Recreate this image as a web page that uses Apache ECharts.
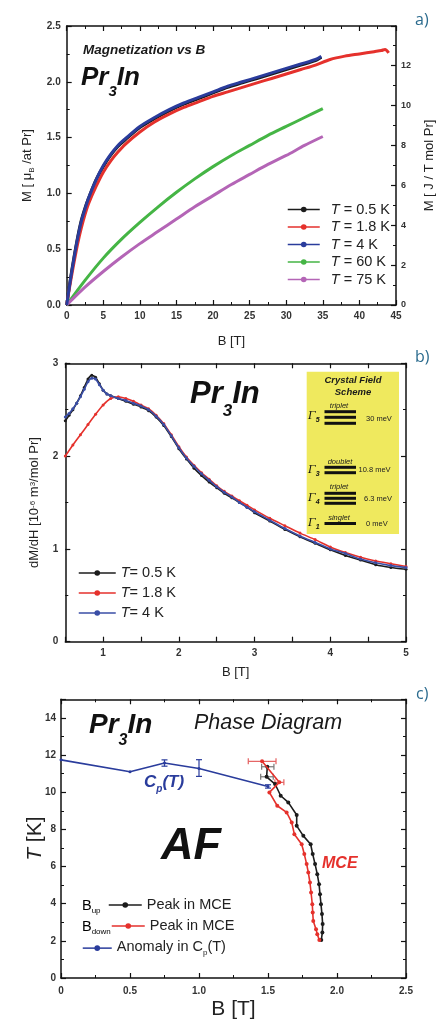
<!DOCTYPE html>
<html><head><meta charset="utf-8">
<script src="https://cdn.jsdelivr.net/npm/echarts@6/dist/echarts.min.js"></script>
<style>html,body{margin:0;padding:0;background:#fff}#c{width:444px;height:1021px}</style>
</head><body><div id="c"></div>
<script>
// ---------- Panel a: Magnetization vs B ----------
const aB_blue = [0,0.5,1,1.5,2,2.5,3,4,5,6,7,8,10,12,14,16,18,20,22,24,26,28,30,32,34,34.8];
const aM_4K   = [0,0.22,0.42,0.60,0.75,0.86,0.96,1.12,1.25,1.35,1.43,1.49,1.60,1.68,1.75,1.81,1.86,1.91,1.96,2.00,2.04,2.08,2.12,2.16,2.20,2.23];
const aM_05K  = [0,0.23,0.43,0.61,0.76,0.87,0.96,1.12,1.24,1.34,1.42,1.48,1.59,1.67,1.74,1.80,1.85,1.90,1.95,1.99,2.03,2.07,2.11,2.15,2.19,2.22];
const aB_red  = [0,0.5,1,1.5,2,2.5,3,4,5,6,7,8,10,12,14,16,18,20,22,24,26,28,30,32,34,36,38,40,42,43,43.5,44];
const aM_18K  = [0,0.20,0.38,0.55,0.69,0.81,0.91,1.06,1.19,1.29,1.37,1.44,1.55,1.64,1.71,1.77,1.82,1.87,1.91,1.95,1.99,2.03,2.07,2.11,2.15,2.20,2.23,2.25,2.27,2.28,2.29,2.26];
const aB_hiT  = [0,2.5,5,7.5,10,12.5,15,17.5,20,22.5,25,27.5,30,32.5,35];
const aM_60K  = [0,0.22,0.42,0.59,0.74,0.88,1.01,1.13,1.24,1.34,1.43,1.52,1.60,1.68,1.76];
const aM_75K  = [0,0.16,0.30,0.43,0.55,0.66,0.77,0.88,0.98,1.08,1.17,1.26,1.34,1.43,1.51];

// ---------- Panel b: dM/dH vs B ----------
const bB      = [0.5,0.55,0.6,0.65,0.7,0.75,0.8,0.85,0.9,0.95,1.0,1.05,1.1,1.2,1.3,1.4,1.5,1.6,1.7,1.8,1.9,2.0,2.1,2.2,2.3,2.4,2.5,2.6,2.7,2.8,2.9,3.0,3.2,3.4,3.6,3.8,4.0,4.2,4.4,4.6,4.8,5.0];
const bD_4K   = [2.42,2.46,2.51,2.57,2.64,2.72,2.80,2.84,2.83,2.77,2.71,2.67,2.65,2.62,2.60,2.57,2.54,2.50,2.43,2.34,2.22,2.09,1.98,1.89,1.81,1.74,1.67,1.61,1.56,1.50,1.45,1.40,1.31,1.22,1.14,1.07,1.00,0.95,0.89,0.85,0.82,0.80];
const bD_05K  = [2.38,2.44,2.50,2.57,2.65,2.74,2.83,2.87,2.85,2.78,2.71,2.67,2.65,2.62,2.59,2.56,2.53,2.49,2.42,2.33,2.21,2.08,1.97,1.87,1.79,1.72,1.66,1.60,1.55,1.50,1.45,1.39,1.30,1.21,1.13,1.06,0.99,0.93,0.88,0.83,0.80,0.78];
const bB_red  = [0.5,0.6,0.7,0.8,0.9,1.0,1.1,1.2,1.3,1.4,1.5,1.6,1.7,1.8,1.9,2.0,2.1,2.2,2.3,2.4,2.5,2.6,2.7,2.8,2.9,3.0,3.2,3.4,3.6,3.8,4.0,4.2,4.4,4.6,4.8,5.0];
const bD_18K  = [2.00,2.12,2.23,2.34,2.45,2.55,2.62,2.64,2.62,2.59,2.55,2.51,2.44,2.35,2.23,2.10,1.99,1.90,1.82,1.75,1.68,1.62,1.57,1.52,1.47,1.42,1.33,1.25,1.17,1.10,1.02,0.96,0.91,0.87,0.84,0.81];

// ---------- Panel c: Phase diagram ----------
const cCp_B  = [0,0.5,0.75,1.0,1.5];
const cCp_T  = [11.74,11.10,11.57,11.28,10.31];
const cCp_lo = [null,null,11.40,10.85,10.22];
const cCp_hi = [null,null,11.74,11.75,10.40];
const cUp_B  = [1.495,1.490,1.551,1.592,1.647,1.708,1.708,1.756,1.809,1.824,1.841,1.857,1.870,1.877,1.884,1.891,1.896,1.894,1.886];
const cUp_T  = [11.37,10.83,10.44,9.81,9.45,8.77,8.19,7.65,7.20,6.67,6.13,5.59,5.05,4.51,3.97,3.44,2.90,2.45,2.04];
const cUp_err = [[1.454,1.543],[1.447,1.538]];
const cDn_B  = [1.457,1.582,1.510,1.567,1.635,1.672,1.691,1.744,1.763,1.780,1.792,1.804,1.812,1.821,1.824,1.828,1.848,1.857,1.872];
const cDn_T  = [11.66,10.53,9.99,9.27,8.91,8.37,7.74,7.20,6.67,6.13,5.68,5.14,4.60,3.97,3.53,3.07,2.63,2.36,2.04];
const cDn_err = [[1.357,1.558],[1.550,1.615]];

// tick label sets
const aLeftTicks = [0,0.5,1.0,1.5,2.0,2.5];
const cXTicks = ['0','0.5','1.0','1.5','2.0','2.5'];

const zip = (xs, ys) => xs.map((x, i) => [x, ys[i]]);
const FF = 'Liberation Sans';

function axis(extra) {
  const base = {
    type: 'value', splitLine: {show: false},
    axisLine: {show: true, onZero: false, lineStyle: {color: '#111', width: 1.5}},
    axisTick: {show: true, inside: true, length: 5, lineStyle: {color: '#111', width: 1.2}},
    minorTick: {show: true, splitNumber: 2, length: 3, lineStyle: {color: '#111', width: 1}},
    axisLabel: {show: true, fontFamily: FF, fontWeight: 'bold', fontSize: 10, color: '#333', margin: 6},
    nameTextStyle: {fontFamily: FF, color: '#222', fontSize: 13}
  };
  const o = Object.assign({}, base, extra);
  if (extra.axisLabel) o.axisLabel = Object.assign({}, base.axisLabel, extra.axisLabel);
  if (extra.axisTick) o.axisTick = Object.assign({}, base.axisTick, extra.axisTick);
  if (extra.minorTick) o.minorTick = Object.assign({}, base.minorTick, extra.minorTick);
  if (extra.nameTextStyle) o.nameTextStyle = Object.assign({}, base.nameTextStyle, extra.nameTextStyle);
  return o;
}

const grids = [
  {left: 66.7, top: 26, width: 342.3, height: 279},
  {left: 65.3, top: 363.3, width: 340.7, height: 278.4},
  {left: 61, top: 699.3, width: 345, height: 279.5}
];

// sub/superscript rich helper: normal tokens top-aligned, sub tokens bottom-aligned
function subLH(fs, d, sub) { return fs / 2 + d + sub / 2; }

const xAxes = [
  axis({gridIndex: 0, min: 0, max: 45, interval: 5, name: 'B [T]', nameLocation: 'middle', nameGap: 30}),
  axis({gridIndex: 0, position: 'top', min: 0, max: 45, interval: 5, axisLabel: {show: false}}),
  axis({gridIndex: 1, min: 0.5, max: 5, interval: 0.5, minorTick: {show: false},
        axisLabel: {formatter: v => Number.isInteger(v) ? String(v) : '', margin: 7},
        name: 'B [T]', nameLocation: 'middle', nameGap: 24}),
  axis({gridIndex: 1, position: 'top', min: 0.5, max: 5, interval: 0.5, minorTick: {show: false}, axisLabel: {show: false}}),
  axis({gridIndex: 2, min: 0, max: 2.5, interval: 0.5,
        axisLabel: {formatter: v => cXTicks[Math.round(v / 0.5)], margin: 8},
        name: 'B [T]', nameLocation: 'middle', nameGap: 21, nameMoveOverlap: false, nameTextStyle: {fontSize: 21}}),
  axis({gridIndex: 2, position: 'top', min: 0, max: 2.5, interval: 0.5, axisLabel: {show: false}})
];

const yAxes = [
  axis({gridIndex: 0, min: 0, max: 2.5, interval: 0.5,
        axisLabel: {formatter: v => aLeftTicks.includes(v) ? v.toFixed(1) : ''},
        name: '{n|M [ μ}{s|B}{n| /at Pr]}', nameLocation: 'middle', nameGap: 26,
        nameTextStyle: {rich: {n: {fontFamily: FF, fontSize: 13, color: '#222', lineHeight: 13, verticalAlign: 'top'},
                               s: {fontFamily: FF, fontSize: 8, color: '#222', lineHeight: subLH(13, 4, 8), verticalAlign: 'bottom'}}}}),
  axis({gridIndex: 0, position: 'right', min: 0, max: 2.5 * 5.585, interval: 2,
        axisLabel: {formatter: v => v <= 12 ? String(v) : '', fontSize: 9, margin: 5},
        name: 'M [ J / T mol Pr]', nameLocation: 'middle', nameGap: 27}),
  axis({gridIndex: 1, min: 0, max: 3, interval: 1,
        axisLabel: {margin: 7},
        name: '{n|dM/dH [10}{p|-6}{n| m}{p|3}{n|/mol Pr]}', nameLocation: 'middle', nameGap: 21,
        nameTextStyle: {rich: {n: {fontFamily: FF, fontSize: 13, color: '#222', lineHeight: 16, verticalAlign: 'top'},
                               p: {fontFamily: FF, fontSize: 8, color: '#222', lineHeight: 8, verticalAlign: 'top'}}}}),
  axis({gridIndex: 1, position: 'right', min: 0, max: 3, interval: 1, axisLabel: {show: false}}),
  axis({gridIndex: 2, min: 0, max: 15, interval: 2,
        axisLabel: {formatter: v => v <= 14 ? String(v) : '', margin: 5},
        name: '{i|T}{n| [K]}', nameLocation: 'middle', nameGap: 15.5, nameMoveOverlap: false,
        nameTextStyle: {rich: {i: {fontFamily: FF, fontSize: 21, fontStyle: 'italic', color: '#222'},
                               n: {fontFamily: FF, fontSize: 21, color: '#222'}}}}),
  axis({gridIndex: 2, position: 'right', min: 0, max: 15, interval: 2, axisLabel: {show: false}})
];

function aLine(name, xs, ys, color, z) {
  return {name, type: 'line', xAxisIndex: 0, yAxisIndex: 0, data: zip(xs, ys), smooth: 0.3,
          symbol: 'circle', symbolSize: 4, showSymbol: false, z,
          lineStyle: {color, width: 3}, itemStyle: {color}};
}
function bLine(name, xs, ys, color, z) {
  return {name, type: 'line', xAxisIndex: 2, yAxisIndex: 2, data: zip(xs, ys), smooth: 0.2,
          symbol: 'circle', symbolSize: 3, showSymbol: true, z,
          lineStyle: {color, width: 1.6}, itemStyle: {color}};
}
function cLine(name, xs, ys, color, z, size) {
  return {name, type: 'line', xAxisIndex: 4, yAxisIndex: 4, data: zip(xs, ys),
          symbol: 'circle', symbolSize: size, showSymbol: true, z,
          lineStyle: {color, width: 1.6}, itemStyle: {color}};
}
function hErr(rows, color) {
  return {type: 'custom', xAxisIndex: 4, yAxisIndex: 4, z: 4, silent: true,
    data: rows, encode: {x: [0, 2, 3], y: 1},
    renderItem: (p, api) => {
      const y = api.value(1), a = api.coord([api.value(2), y]), b = api.coord([api.value(3), y]);
      const st = {stroke: color, lineWidth: 1.2};
      return {type: 'group', children: [
        {type: 'line', shape: {x1: a[0], y1: a[1], x2: b[0], y2: b[1]}, style: st},
        {type: 'line', shape: {x1: a[0], y1: a[1] - 3, x2: a[0], y2: a[1] + 3}, style: st},
        {type: 'line', shape: {x1: b[0], y1: b[1] - 3, x2: b[0], y2: b[1] + 3}, style: st}]};
    }};
}
function vErr(rows, color) {
  return {type: 'custom', xAxisIndex: 4, yAxisIndex: 4, z: 4, silent: true,
    data: rows, encode: {x: 0, y: [1, 2, 3]},
    renderItem: (p, api) => {
      const x = api.value(0), a = api.coord([x, api.value(2)]), b = api.coord([x, api.value(3)]);
      const st = {stroke: color, lineWidth: 1.2};
      return {type: 'group', children: [
        {type: 'line', shape: {x1: a[0], y1: a[1], x2: b[0], y2: b[1]}, style: st},
        {type: 'line', shape: {x1: a[0] - 3, y1: a[1], x2: a[0] + 3, y2: a[1]}, style: st},
        {type: 'line', shape: {x1: b[0] - 3, y1: b[1], x2: b[0] + 3, y2: b[1]}, style: st}]};
    }};
}

const cUpErrRows = cUp_err.map((e, i) => [cUp_B[i], cUp_T[i], e[0], e[1]]);
const cDnErrRows = cDn_err.map((e, i) => [cDn_B[i], cDn_T[i], e[0], e[1]]);
const cCpErrRows = cCp_B.map((b, i) => [b, cCp_T[i], cCp_lo[i], cCp_hi[i]]).filter(r => r[2] !== null);

const COL = {k: '#1c1c1c', r: '#e5312c', b: '#2a3c9c', g: '#45b545', m: '#b465b6', bb: '#3a4ea6'};

const series = [
  aLine('a05', aB_blue, aM_05K, COL.k, 2),
  aLine('a18', aB_red, aM_18K, COL.r, 3),
  aLine('a4', aB_blue, aM_4K, COL.b, 4),
  aLine('a60', aB_hiT, aM_60K, COL.g, 3),
  aLine('a75', aB_hiT, aM_75K, COL.m, 3),
  bLine('b05', bB, bD_05K, COL.k, 2),
  bLine('b18', bB_red, bD_18K, COL.r, 3),
  bLine('b4', bB, bD_4K, COL.bb, 4),
  hErr(cUpErrRows, '#777'),
  hErr(cDnErrRows, '#e46060'),
  vErr(cCpErrRows, COL.b),
  cLine('cUp', cUp_B, cUp_T, COL.k, 5, 4),
  cLine('cDn', cDn_B, cDn_T, COL.r, 6, 4),
  cLine('cCp', cCp_B, cCp_T, COL.b, 6, 3)
];

const LBL = {
  a05: '{p|}{i|T}{n| = 0.5 K}', a18: '{p|}{i|T}{n| = 1.8 K}', a4: '{p|}{i|T}{n| = 4 K}',
  a60: '{p|}{i|T}{n| = 60 K}', a75: '{p|}{i|T}{n| = 75 K}',
  b05: '{i|T}{n|= 0.5 K}', b18: '{i|T}{n|= 1.8 K}', b4: '{i|T}{n|= 4 K}',
  cUp: '{n|Peak in MCE}', cDn: '{n|Peak in MCE}', cCp: '{n|Anomaly in C}{s|p}{n|(T)}'
};
const legRich = {
  p: {width: 6},
  i: {fontFamily: FF, fontSize: 14.5, fontStyle: 'italic', color: '#222', lineHeight: 15, verticalAlign: 'top'},
  n: {fontFamily: FF, fontSize: 14.5, color: '#222', lineHeight: 15, verticalAlign: 'top'},
  s: {fontFamily: FF, fontSize: 8, color: '#222', lineHeight: subLH(14.5, 6, 8), verticalAlign: 'bottom'}
};
function legend(data, left, top, gap, iw) {
  return {data, orient: 'vertical', left, top, itemGap: gap, itemWidth: iw, itemHeight: 7,
          padding: 0, selectedMode: false, formatter: n => LBL[n],
          textStyle: {fontFamily: FF, fontSize: 14.5, color: '#222', rich: legRich},
          lineStyle: {width: 1.5}};
}

function txt(x, y, text, st) {
  return {type: 'text', x, y, z: 100, silent: true,
          style: Object.assign({text, fill: '#1a1a1a', fontFamily: FF, fontSize: 13, align: 'left', verticalAlign: 'middle'}, st)};
}
function prIn(x, top, fs, sub, off) {
  return {type: 'text', x, y: top, z: 100, silent: true,
    style: {text: '{a|Pr}{s|3}{a|In}', align: 'left', verticalAlign: 'top',
      rich: {a: {fontFamily: FF, fontSize: fs, fontWeight: 'bold', fontStyle: 'italic', fill: '#111', lineHeight: fs, verticalAlign: 'top'},
             s: {fontFamily: FF, fontSize: sub, fontWeight: 'bold', fontStyle: 'italic', fill: '#111', lineHeight: subLH(fs, off, sub), verticalAlign: 'bottom'}}}};
}
function gam(x, y, n) {
  return {type: 'text', x, y, z: 100, silent: true,
    style: {text: '{g|Γ}{s|' + n + '}', align: 'left', verticalAlign: 'top',
      rich: {g: {fontFamily: 'DejaVu Serif', fontSize: 11, fontStyle: 'italic', fill: '#111', lineHeight: 11, verticalAlign: 'top'},
             s: {fontFamily: FF, fontSize: 7, fontWeight: 'bold', fontStyle: 'italic', fill: '#111', lineHeight: subLH(11, 4, 7), verticalAlign: 'bottom'}}}};
}
function bar(x, y, w) {
  return {type: 'rect', z: 100, silent: true, shape: {x, y: y - 1.5, width: w, height: 3}, style: {fill: '#111'}};
}
const small = {fontSize: 7.5, fontStyle: 'italic', align: 'center'};
const mev = {fontSize: 7.5, fill: '#222'};

const graphic = [
  txt(415, 20, 'a)', {fontFamily: 'Open Sans', fontSize: 16, fill: '#2b6b8e'}),
  txt(415, 357, 'b)', {fontFamily: 'Open Sans', fontSize: 16, fill: '#2b6b8e'}),
  txt(416, 694, 'c)', {fontFamily: 'Open Sans', fontSize: 16, fill: '#2b6b8e'}),
  txt(83, 50, 'Magnetization vs B', {fontSize: 13.5, fontWeight: 'bold', fontStyle: 'italic'}),
  prIn(81, 65, 26, 15, 14),
  prIn(190, 379, 31, 17, 17),
  prIn(89, 711, 28, 16, 16),
  txt(194, 723, 'Phase Diagram', {fontSize: 21.5, fontStyle: 'italic'}),
  txt(161, 847, 'AF', {fontSize: 45, fontWeight: 'bold', fontStyle: 'italic', fill: '#111'}),
  {type: 'text', x: 144, y: 774, z: 100, silent: true,
   style: {text: '{c|C}{s|p}{c|(T)}', align: 'left', verticalAlign: 'top',
     rich: {c: {fontFamily: FF, fontSize: 17, fontWeight: 'bold', fontStyle: 'italic', fill: COL.b, lineHeight: 17, verticalAlign: 'top'},
            s: {fontFamily: FF, fontSize: 10, fontWeight: 'bold', fontStyle: 'italic', fill: COL.b, lineHeight: subLH(17, 7, 10), verticalAlign: 'bottom'}}}},
  txt(322, 864, 'MCE', {fontSize: 16, fontWeight: 'bold', fontStyle: 'italic', fill: COL.r}),
  {type: 'text', x: 82, y: 898, z: 100, silent: true,
   style: {text: '{n|B}{s|up}', align: 'left', verticalAlign: 'top', rich: legRich}},
  {type: 'text', x: 82, y: 919, z: 100, silent: true,
   style: {text: '{n|B}{s|down}', align: 'left', verticalAlign: 'top', rich: legRich}},
  // crystal field inset
  {type: 'rect', z: 90, silent: true, shape: {x: 306.7, y: 371.7, width: 92.3, height: 162.3}, style: {fill: '#efe95e'}},
  txt(353, 380, 'Crystal Field', {fontSize: 9.5, fontWeight: 'bold', fontStyle: 'italic', align: 'center'}),
  txt(353, 392.5, 'Scheme', {fontSize: 9.5, fontWeight: 'bold', fontStyle: 'italic', align: 'center'}),
  txt(339, 406, 'triplet', small),
  bar(324.5, 411.7, 31.5), bar(324.5, 417.3, 31.5), bar(324.5, 423.3, 31.5),
  gam(308, 411, '5'), txt(366, 419, '30 meV', mev),
  txt(340, 461.5, 'doublet', small),
  bar(324.5, 467.3, 31.5), bar(324.5, 472.7, 31.5),
  gam(308, 465, '3'), txt(358.5, 470, '10.8 meV', mev),
  txt(339, 486.5, 'triplet', small),
  bar(324.5, 493.3, 31.5), bar(324.5, 498.3, 31.5), bar(324.5, 503.3, 31.5),
  gam(308, 493, '4'), txt(364, 498.5, '6.3 meV', mev),
  txt(339, 518, 'singlet', small),
  bar(324.5, 523.5, 31.5),
  gam(308, 518, '1'), txt(366, 523.5, '0 meV', mev)
];

const option = {
  animation: false,
  backgroundColor: '#fff',
  grid: grids,
  xAxis: xAxes,
  yAxis: yAxes,
  legend: [
    legend(['a05', 'a18', 'a4', 'a60', 'a75'], 287, 202, 2.5, 32),
    legend(['b05', 'b18', 'b4'], 78, 565.5, 5, 37),
    legend(['cUp'], 108, 897.5, 0, 33),
    legend(['cDn'], 111, 918.5, 0, 33),
    legend(['cCp'], 82, 939.5, 0, 29)
  ],
  series,
  graphic
};
const chart = echarts.init(document.getElementById('c'), null, {renderer: 'canvas'});
chart.setOption(option);
</script>
</body></html>
